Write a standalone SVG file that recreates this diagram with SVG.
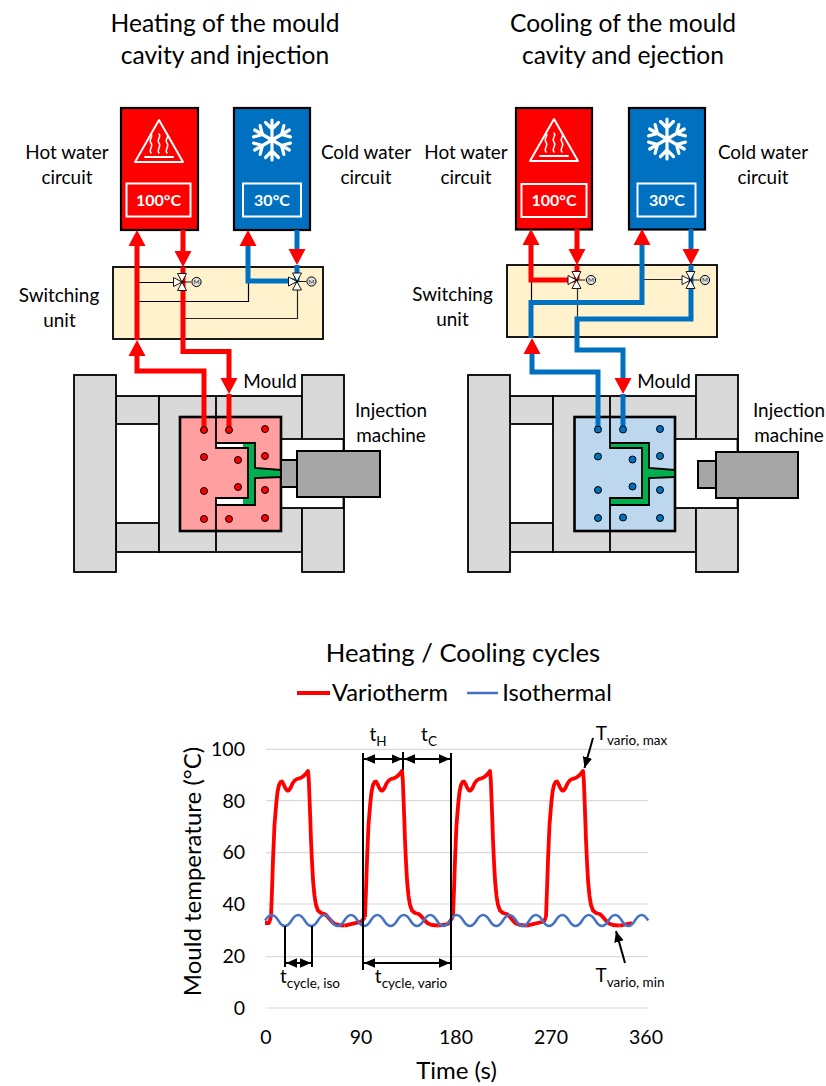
<svg xmlns="http://www.w3.org/2000/svg" width="826" height="1086" viewBox="0 0 826 1086">
<style>
text{font-family:"Lato","Open Sans","Liberation Sans",sans-serif;fill:#000;text-anchor:middle}
.t{font-size:24.6px}.l{font-size:18.9px}.a{font-size:19.5px}.e{font-size:19.5px;text-anchor:end}.ax{font-size:24px}.leg{font-size:23.7px}.title2{font-size:25.7px}.s{font-size:19px}.temp{font-size:16px;font-weight:700;fill:#fff}
.sub{font-size:13.5px}
.frame{fill:#d9d9d9;stroke:#000;stroke-width:1.8}
.mach{fill:#a6a6a6;stroke:#000;stroke-width:2}
.pipe{fill:none;stroke-width:5;stroke-linejoin:miter}
.r{stroke:#f00}.b{stroke:#0070c0}
.ra{marker-end:url(#hr)}.ba{marker-end:url(#hb)}
.ctl{fill:none;stroke:#000;stroke-width:1.2}
.ctl2{fill:none;stroke:#262626;stroke-width:1.2}
.box{stroke:#000;stroke-width:2.2}
.ic{fill:none;stroke:#fff;stroke-linecap:round;stroke-linejoin:round}
.grid{stroke:#d9d9d9;stroke-width:1.2;fill:none}
.ann{stroke:#000;stroke-width:2;fill:none}
.dbl{stroke:#000;stroke-width:2;fill:none;marker-start:url(#ak);marker-end:url(#ak)}
.one{stroke:#000;stroke-width:2;fill:none;marker-end:url(#ak2)}
.red{fill:none;stroke:#f00;stroke-width:3.800;stroke-linejoin:round}
</style>
<defs>
<marker id="hr" markerUnits="userSpaceOnUse" viewBox="0 -9 16 18" refX="0" refY="0" markerWidth="16" markerHeight="18" orient="auto"><path d="M0 -8.500L16 0L0 8.500z" fill="#f00"/></marker>
<marker id="hb" markerUnits="userSpaceOnUse" viewBox="0 -9 16 18" refX="0" refY="0" markerWidth="16" markerHeight="18" orient="auto"><path d="M0 -8.500L16 0L0 8.500z" fill="#0070c0"/></marker>
<marker id="ak" markerUnits="userSpaceOnUse" viewBox="0 -5 11 10" refX="11" refY="0" markerWidth="11" markerHeight="10" orient="auto-start-reverse"><path d="M0 -4.800L11 0L0 4.800z" fill="#000"/></marker>
<marker id="ak2" markerUnits="userSpaceOnUse" viewBox="0 -5 11 10" refX="11" refY="0" markerWidth="11" markerHeight="10" orient="auto"><path d="M0 -4.800L11 0L0 4.800z" fill="#000"/></marker>
<g id="valve">
<path d="M0 0L-4.500 -8.500H4.500zM0 0L-4.500 8.500H4.500zM0 0L-8.500 -4.500V4.500z" fill="#fff" stroke="#000" stroke-width=".9" stroke-linejoin="round"/>
<path d="M0 0H9" stroke="#000" stroke-width=".9"/>
<circle cx="14.500" cy="0" r="4.600" fill="#e0e0e0" stroke="#000" stroke-width="1"/>
<text x="14.500" y="2.200" style="font-size:6.500px;fill:#333">M</text>
</g>
<g id="heat">
<path class="ic" stroke-width="2" d="M0 -21L-24 21H24z"/>
<path class="ic" stroke-width="2" d="M-14 16H14"/>
<path class="ic" stroke-width="1.500" d="M-8 12c-3 -4 3 -6 0 -10s3 -6 0 -9M0 12c-3 -4 3 -6 0 -10s3 -6 0 -9M8 12c-3 -4 3 -6 0 -10s3 -6 0 -9"/>
</g>
<g id="arm"><path class="ic" stroke-width="3.200" d="M0 0V-20M-6.500 -17.500L0 -11L6.500 -17.500"/></g>
<g id="snow">
<use href="#arm"/>
<use href="#arm" transform="rotate(60)"/>
<use href="#arm" transform="rotate(120)"/>
<use href="#arm" transform="rotate(180)"/>
<use href="#arm" transform="rotate(240)"/>
<use href="#arm" transform="rotate(300)"/>
</g>
<g id="frame">
<rect class="frame" x="116" y="396" width="43" height="28"/>
<rect class="frame" x="116" y="523" width="43" height="29"/>
<rect class="frame" x="159" y="396" width="143" height="156"/>
<rect class="frame" x="74" y="375" width="42" height="197"/>
<rect class="frame" x="302" y="375" width="42" height="197"/>
<rect x="281" y="439" width="62.500" height="69" fill="#fff" stroke="#000" stroke-width="1.800"/>
<path d="M216 396V417M216 531V552" stroke="#000" stroke-width="1.800"/>
</g>
<g id="cav">
<path fill="#00b050" d="M243 443H255V468L280 470V477L255 478V505H243V498H248V448H243z"/>
<path fill="none" stroke="#000" stroke-width="1.800" d="M216 417V448H248V498H216V531M216 443H255V468L281 470M281 477L255 478V505H216"/>
</g>
<polyline id="cycle" class="red" points="-37,917 -36,890 -35,860 -33.500,825 -31.700,803 -30.500,792 -29,785 -27.500,782 -26,781.500 -24.500,784 -22.700,788 -21,790.500 -19.500,790.500 -17.500,788 -15.500,783.500 -13.300,780.500 -11,779 -8.300,778.300 -5.500,776.800 -3.300,775 -1.500,773 0,771 0.800,780 1.700,803 3,840 4,862 5,880 6.500,896 8,905 10,910.500 13,913 16.700,914 19,916 23.300,921 26,923.500 30,925 36.700,925.700"/>
</defs>

<rect width="826" height="1086" fill="#fff"/>

<g id="titles">
<text class="t" x="225" y="32">Heating of the mould</text>
<text class="t" x="225" y="64">cavity and injection</text>
<text class="t" x="623" y="32">Cooling of the mould</text>
<text class="t" x="623" y="64">cavity and ejection</text>
</g>

<g id="left-labels">
<text class="l" x="67" y="159">Hot water</text><text class="l" x="67" y="184">circuit</text>
<text class="l" x="366" y="159">Cold water</text><text class="l" x="366" y="184">circuit</text>
<text class="l" x="59" y="302">Switching</text><text class="l" x="59.500" y="327">unit</text>
<text class="l" x="270" y="388">Mould</text>
<text class="l" x="391" y="417">Injection</text><text class="l" x="391" y="442">machine</text>
</g>
<g id="right-labels">
<text class="l" x="466" y="159">Hot water</text><text class="l" x="466" y="184">circuit</text>
<text class="l" x="763" y="159">Cold water</text><text class="l" x="763" y="184">circuit</text>
<text class="l" x="452.500" y="301">Switching</text><text class="l" x="452.500" y="326">unit</text>
<text class="l" x="664" y="388">Mould</text>
<text class="l" x="789" y="417">Injection</text><text class="l" x="789" y="442">machine</text>
</g>

<g id="left-machine">
<use href="#frame"/>
<rect x="180" y="417" width="101" height="114" fill="#ff9f9f" stroke="#000" stroke-width="2.600"/>
<rect x="217" y="443.500" width="26" height="4" fill="#fff"/>
<rect x="217" y="499" width="26" height="5.500" fill="#fff"/>
<use href="#cav"/>
<rect class="mach" x="281" y="460" width="16" height="27"/>
<rect class="mach" x="297" y="451" width="83" height="46"/>
</g>
<g id="right-machine">
<use href="#frame" transform="translate(394 0)"/>
<rect x="574.500" y="417" width="100.500" height="114" fill="#bdd7ee" stroke="#000" stroke-width="2.600"/>
<path fill="#00b050" d="M610 443H638V448H610zM610 498H638V505H610z"/>
<use href="#cav" transform="translate(394 0)"/>
<rect class="mach" x="698" y="461" width="18" height="27"/>
<rect class="mach" x="716" y="452" width="82" height="46"/>
</g>

<g id="left-switch"><rect x="113" y="267" width="210" height="72" fill="#fff2cc" stroke="#000" stroke-width="1.800"/></g>
<g id="right-switch"><rect x="507" y="265" width="210" height="72" fill="#fff2cc" stroke="#000" stroke-width="1.800"/></g>

<g id="left-hot"><rect class="box" x="121" y="108" width="77" height="122" fill="#f00"/>
<use href="#heat" transform="translate(159 141)"/>
<rect x="126.500" y="183.500" width="64" height="33" fill="none" stroke="#fff" stroke-width="2"/>
<text class="temp" x="158.500" y="205.500">100°C</text></g>
<g id="left-cold"><rect class="box" x="234" y="108" width="76" height="122" fill="#0070c0"/>
<use href="#snow" transform="translate(272 140)"/>
<rect x="243" y="183.500" width="58" height="33" fill="none" stroke="#fff" stroke-width="2"/>
<text class="temp" x="272" y="205.500">30°C</text></g>
<g id="right-hot"><rect class="box" x="516" y="108" width="76" height="121.500" fill="#f00"/>
<use href="#heat" transform="translate(554 140)"/>
<rect x="521.500" y="184" width="65" height="33" fill="none" stroke="#fff" stroke-width="2"/>
<text class="temp" x="554" y="205.500">100°C</text></g>
<g id="right-cold"><rect class="box" x="629" y="108" width="76" height="121.500" fill="#0070c0"/>
<use href="#snow" transform="translate(667 139)"/>
<rect x="637.500" y="183.500" width="58" height="33" fill="none" stroke="#fff" stroke-width="2"/>
<text class="temp" x="667" y="205.500">30°C</text></g>

<g id="connectors">
<g id="left-control">
<path class="ctl" d="M137 282.500H174M137 301.500H248.500V281"/>
<path class="ctl2" d="M183 318.500H297.500V282"/>
</g>
<g id="left-pipes">
<path class="pipe r ra" d="M204 430V371H137V356"/>
<path class="pipe r ra" d="M137 340V246"/>
<path class="pipe r ra" d="M183 230V251"/>
<path class="pipe r" d="M183 267V282"/>
<path class="pipe r ra" d="M183 282V351.500H229V378"/>
<path class="pipe r" d="M229 394V430"/>
<path class="pipe b ra" d="M297 281H248V246"/>
<path class="pipe b ra" d="M297 230V249"/>
<path class="pipe b" d="M297 265V282"/>
</g>
<g id="right-control">
<path class="ctl" d="M531.500 280V302"/>
<path class="ctl2" d="M577.500 280V319M642 279.500H691"/>
</g>
<g id="right-pipes">
<path class="pipe r ra" d="M576 280H531V245"/>
<path class="pipe r ra" d="M577 229V249"/>
<path class="pipe r" d="M577 265V280"/>
<path class="pipe b ra" d="M531 338V302.500H642V245"/>
<path class="pipe b ra" d="M598 430V372H532V354"/>
<path class="pipe b ra" d="M691 229V249"/>
<path class="pipe b" d="M691 265V280"/>
<path class="pipe b ra" d="M691 280V319H577V350H623V378"/>
<path class="pipe b" d="M623 394V430"/>
</g>
<use href="#valve" x="182" y="282"/>
<use href="#valve" x="297" y="281.500"/>
<use href="#valve" x="576.500" y="280"/>
<use href="#valve" x="690.500" y="280"/>
</g>

<g id="left-dots" fill="#f00" stroke="#000" stroke-width="1">
<circle cx="204" cy="430" r="3.500"/><circle cx="229" cy="430" r="3.500"/><circle cx="265" cy="429" r="3.500"/>
<circle cx="204" cy="457" r="3.500"/><circle cx="238" cy="460" r="3.500"/><circle cx="265" cy="456" r="3.500"/>
<circle cx="204" cy="491" r="3.500"/><circle cx="238" cy="487" r="3.500"/><circle cx="265" cy="490" r="3.500"/>
<circle cx="204" cy="519" r="3.500"/><circle cx="229" cy="519" r="3.500"/><circle cx="265" cy="518" r="3.500"/>
</g>
<g id="right-dots" fill="#0070c0" stroke="#000" stroke-width="1">
<circle cx="598" cy="429.500" r="3.500"/><circle cx="623" cy="429.500" r="3.500"/><circle cx="660" cy="429" r="3.500"/>
<circle cx="598" cy="456.500" r="3.500"/><circle cx="632.500" cy="459.500" r="3.500"/><circle cx="660" cy="456" r="3.500"/>
<circle cx="598" cy="490" r="3.500"/><circle cx="632.500" cy="486.500" r="3.500"/><circle cx="660" cy="490" r="3.500"/>
<circle cx="598" cy="518" r="3.500"/><circle cx="623" cy="517.500" r="3.500"/><circle cx="660" cy="518" r="3.500"/>
</g>

<g id="chart">
<text class="title2" x="463" y="662">Heating / Cooling cycles</text>
<path d="M297 693H330" stroke="#f00" stroke-width="3.800"/>
<text class="leg" x="390" y="701">Variotherm</text>
<path d="M467 693H498" stroke="#4472c4" stroke-width="2.500"/>
<text class="leg" x="557" y="701">Isothermal</text>
<path class="grid" d="M266 749.300H648M266 800.700H648M266 852.700H648M266 904H648M266 956.700H648M266 1008H648"/>
<text class="e" x="245" y="756">100</text><text class="e" x="245" y="808">80</text><text class="e" x="245" y="859">60</text><text class="e" x="245" y="911">40</text><text class="e" x="245" y="963">20</text><text class="e" x="245" y="1015">0</text>
<text class="a" x="266" y="1044">0</text><text class="a" x="361" y="1044">90</text><text class="a" x="456" y="1044">180</text><text class="a" x="551" y="1044">270</text><text class="a" x="646" y="1044">360</text>
<text class="ax" x="456.500" y="1079">Time (s)</text>
<text class="ax" transform="translate(200.500 871.500) rotate(-90)">Mould temperature (°C)</text>
<path class="red" d="M265 923H269L271 917M344.700 925.700L361.300 921.700L365 917M438.700 925.700L448 924L453 917M526.700 925.700L544 921.500L546 917M619.700 925.700L632 923"/>
<use href="#cycle" x="308"/>
<use href="#cycle" x="402"/>
<use href="#cycle" x="490"/>
<use href="#cycle" x="583"/>
<path fill="none" stroke="#4472c4" stroke-width="2.500" d="M265.100 920.500q6.600 -11 13.210 0t13.210 0t13.210 0t13.210 0t13.210 0t13.210 0t13.210 0t13.210 0t13.210 0t13.210 0t13.210 0t13.210 0t13.210 0t13.210 0t13.210 0t13.210 0t13.210 0t13.210 0t13.210 0t13.210 0t13.210 0t13.210 0t13.210 0t13.210 0t13.210 0t13.210 0t13.210 0t13.210 0t13.210 0"/>
<path class="ann" d="M363 753V970M451 753V970M403 752V770M285 926V967M312 926V967"/>
<path class="dbl" d="M364 759H402.500"/>
<path class="dbl" d="M404 759H450"/>
<path class="dbl" d="M286 963H311"/>
<path class="dbl" d="M364 963H450"/>
<path class="one" d="M593 738L584.500 768"/>
<path class="one" d="M625 963L616 931"/>
<text class="s" x="378" y="741">t<tspan class="sub" dy="4.500">H</tspan></text>
<text class="s" x="429" y="741">t<tspan class="sub" dy="4.500">C</tspan></text>
<text class="s" x="310" y="983">t<tspan class="sub" dy="5">cycle, iso</tspan></text>
<text class="s" x="411" y="983">t<tspan class="sub" dy="5">cycle, vario</tspan></text>
<text class="s" x="631.500" y="740">T<tspan class="sub" dy="4.500">vario, max</tspan></text>
<text class="s" x="630" y="982">T<tspan class="sub" dy="5">vario, min</tspan></text>
</g>
</svg>
